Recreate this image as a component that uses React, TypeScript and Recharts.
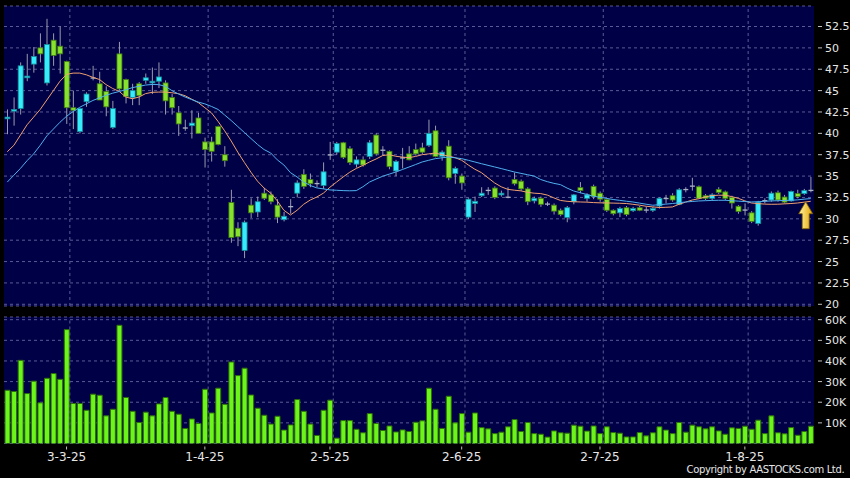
import React from "react";
import {
  Bar,
  BarChart,
  CartesianGrid,
  ComposedChart,
  Line,
  ReferenceDot,
  ReferenceLine,
  XAxis,
  YAxis,
} from "recharts";

// HK trading calendar, 18 Feb - 15 Aug 2025
const FIRST_DAY = "2025-02-18";
const LAST_DAY = "2025-08-15";
const HOLIDAYS = ["2025-04-04", "2025-04-18", "2025-04-21", "2025-05-01", "2025-05-05", "2025-07-01"];

const DATE_TICKS = ["3-3-25", "1-4-25", "2-5-25", "2-6-25", "2-7-25", "1-8-25"];
const PRICE_TICKS = [20, 22.5, 25, 27.5, 30, 32.5, 35, 37.5, 40, 42.5, 45, 47.5, 50, 52.5];
const VOLUME_TICKS = [10000, 20000, 30000, 40000, 50000, 60000];

const OPEN = [
  41.7, 42.6, 42.9, 46.5, 48.1, 50.0, 45.9, 50.9, 50.2, 48.4,
  43.0, 40.2, 43.7, 46.55, 45.8, 44.9, 40.7, 49.3, 46.3, 44.2,
  45.8, 46.2, 45.9, 46.1, 45.9, 44.2, 42.4, 40.7, 40.9, 41.8,
  39.0, 39.0, 40.8, 37.5, 31.9, 28.9, 26.3, 31.6, 30.8, 33.0,
  32.8, 31.6, 29.9, 31.4, 33.0, 35.2, 34.6, 34.1, 33.9, 37.5,
  37.8, 38.9, 38.2, 36.4, 36.9, 37.3, 39.8, 38.0, 37.9, 35.6,
  37.1, 37.6, 38.1, 38.3, 38.6, 40.3, 37.3, 38.5, 35.3, 35.0,
  30.2, 31.8, 32.7, 33.3, 33.6, 32.8, 32.55, 34.6, 34.4, 33.5,
  32.1, 32.4, 31.8, 31.6, 31.0, 30.15, 32.0, 33.65, 32.4, 33.8,
  33.0, 32.25, 31.0, 30.7, 31.3, 30.95, 31.3, 31.05, 31.0, 31.5,
  32.4, 32.7, 31.7, 33.4, 33.8, 33.75, 32.7, 32.4, 33.45, 33.15,
  32.5, 31.47, 31.1, 30.7, 29.45, 32.1, 32.2, 33.05, 32.55, 32.1,
  32.95, 32.95, 33.35,
];
const HIGH = [
  42.8, 44.2, 48.3, 49.3, 50.1, 51.7, 53.4, 51.7, 52.5, 48.5,
  45.0, 42.9, 44.8, 47.9, 47.2, 45.5, 43.8, 50.7, 46.4, 45.8,
  46.0, 47.0, 47.7, 48.3, 46.2, 44.6, 43.2, 41.6, 42.7, 42.4,
  39.5, 39.6, 40.9, 38.5, 33.4, 29.6, 29.8, 32.4, 32.6, 33.6,
  33.2, 32.3, 30.8, 32.3, 34.5, 35.8, 35.3, 34.5, 36.6, 39.0,
  39.0, 39.0, 38.5, 37.3, 37.3, 39.2, 40.0, 38.5, 38.0, 36.9,
  38.3, 38.5, 38.8, 38.9, 41.6, 40.9, 38.0, 39.2, 36.1, 35.3,
  32.4, 32.6, 33.7, 33.7, 33.8, 33.3, 33.7, 35.4, 34.6, 33.7,
  32.6, 32.6, 32.0, 31.8, 31.2, 31.5, 32.9, 34.3, 33.0, 34.0,
  33.2, 32.4, 31.1, 31.4, 31.5, 31.4, 31.5, 31.4, 31.4, 32.5,
  32.8, 33.0, 33.6, 33.7, 34.8, 33.9, 32.9, 33.0, 33.7, 33.3,
  32.7, 31.6, 31.8, 30.9, 32.1, 32.4, 33.2, 33.3, 32.8, 33.3,
  33.4, 33.5, 34.9,
];
const LOW = [
  39.9, 40.9, 42.2, 46.1, 47.1, 48.3, 45.6, 47.9, 47.0, 41.1,
  40.5, 40.0, 43.1, 46.2, 43.9, 42.0, 40.5, 45.0, 43.5, 43.3,
  43.3, 45.8, 44.6, 45.3, 42.2, 42.2, 39.7, 40.3, 39.4, 40.0,
  36.0, 36.7, 38.6, 36.1, 27.2, 26.8, 25.4, 30.1, 30.2, 32.2,
  31.7, 29.5, 29.7, 30.6, 32.5, 33.5, 33.7, 33.7, 33.5, 36.9,
  37.5, 37.0, 36.3, 36.0, 36.1, 37.0, 37.4, 37.4, 35.8, 35.0,
  35.9, 36.85, 37.4, 37.6, 38.4, 37.2, 36.8, 34.5, 34.1, 33.4,
  30.0, 30.8, 32.55, 32.8, 32.3, 32.6, 32.4, 33.9, 33.3, 31.6,
  31.8, 31.4, 31.5, 30.5, 30.3, 29.6, 31.7, 33.0, 32.0, 32.3,
  32.0, 30.8, 30.4, 30.2, 30.3, 30.8, 30.9, 30.7, 30.8, 31.2,
  31.8, 32.0, 31.6, 33.1, 33.3, 32.3, 32.2, 32.2, 32.9, 32.2,
  31.2, 30.6, 30.4, 29.5, 29.2, 31.8, 32.0, 32.0, 31.8, 32.0,
  32.4, 32.8, 33.1,
];
const CLOSE = [
  41.9, 42.8, 47.9, 46.7, 49.0, 49.3, 50.4, 49.1, 49.3, 43.0,
  42.7, 42.9, 44.6, 46.5, 43.9, 43.1, 42.9, 45.2, 44.3, 45.0,
  44.4, 46.5, 46.1, 46.6, 43.8, 43.0, 41.1, 40.6, 41.2, 40.0,
  38.1, 37.9, 38.7, 36.8, 27.8, 27.9, 29.6, 30.7, 32.0, 32.4,
  32.0, 30.2, 30.3, 31.5, 34.2, 33.8, 34.1, 34.2, 35.5, 37.55,
  38.8, 37.2, 36.6, 36.9, 36.3, 38.9, 37.6, 38.1, 36.1, 36.7,
  37.2, 36.9, 37.6, 37.8, 40.0, 37.3, 37.8, 34.8, 35.9, 34.2,
  32.3, 32.05, 33.0, 33.4, 32.5, 33.0, 32.6, 34.1, 33.5, 32.0,
  32.4, 31.7, 31.75, 30.9, 30.5, 31.3, 32.8, 33.3, 32.8, 32.6,
  32.3, 31.0, 30.6, 31.2, 30.5, 31.2, 31.0, 31.1, 31.2, 32.4,
  32.45, 32.2, 33.4, 33.5, 33.9, 32.4, 32.4, 32.8, 33.1, 32.4,
  31.85, 30.85, 31.05, 29.7, 31.95, 32.2, 33.0, 32.2, 31.95, 33.2,
  32.6, 33.3, 33.4,
];
// orange (short) and blue (long) moving averages as drawn
const MA_SHORT = [
  37.85, 38.6, 39.8, 41.0, 41.9, 42.8, 43.9, 45.0, 46.1, 46.9,
  47.05, 47.05, 46.85, 46.55, 46.3, 45.7, 45.25, 44.9, 44.25, 44.05,
  44.25, 44.65, 44.8, 44.83, 44.83, 44.75, 44.64, 44.4, 44.0, 43.6,
  43.0, 42.4, 41.4, 40.3, 39.1, 37.8, 36.6, 35.45, 34.4, 33.6,
  33.0, 32.1, 31.0, 30.45, 31.0, 31.7, 32.2, 32.55, 33.0, 33.7,
  34.3, 34.9, 35.45, 35.9, 36.25, 36.65, 37.0, 37.4, 37.5, 37.32,
  37.22, 37.16, 37.3, 37.5, 37.6, 37.7, 37.5, 37.35, 37.15, 36.85,
  36.3, 35.8, 35.4, 34.8, 34.2, 33.75, 33.45, 33.35, 33.27, 33.1,
  33.0, 32.95, 32.78, 32.45, 32.15, 32.05, 32.0, 31.97, 31.95, 31.9,
  31.87, 31.86, 31.84, 31.82, 31.79, 31.7, 31.6, 31.47, 31.4, 31.32,
  31.35, 31.39, 31.7, 31.95, 32.2, 32.35, 32.55, 32.72, 32.76, 32.76,
  32.6, 32.4, 32.1, 31.85, 31.78, 31.72, 31.7, 31.71, 31.75, 31.79,
  31.85, 31.95, 32.05,
];
const MA_LONG = [
  34.3, 35.1, 35.9, 36.8, 37.6, 38.6, 39.7, 40.5, 41.3, 42.0,
  42.55, 43.05, 43.45, 43.85, 44.15, 44.45, 44.7, 44.9, 45.1, 45.35,
  45.5, 45.65, 45.72, 45.7, 45.5, 45.0, 44.6, 44.25, 43.95, 43.66,
  43.45, 43.15, 42.8, 42.15, 41.5, 40.8, 40.1, 39.4, 38.7, 38.1,
  37.7, 36.9, 36.3, 35.4, 34.9, 34.3, 33.9, 33.62, 33.5, 33.38,
  33.34, 33.3, 33.28, 33.3, 33.75, 34.3, 34.65, 34.98, 35.23, 35.48,
  35.77, 36.06, 36.35, 36.65, 36.85, 37.04, 37.14, 37.23, 37.14, 37.04,
  36.85, 36.65, 36.45, 36.26, 36.07, 35.88, 35.68, 35.48, 35.32, 35.16,
  35.0, 34.6, 34.35, 34.15, 34.0, 33.6, 33.26, 33.05, 32.85, 32.64,
  32.52, 32.39, 32.26, 32.16, 32.06, 31.97, 31.84, 31.71, 31.59, 31.65,
  31.72, 31.79, 31.88, 31.97, 32.03, 32.09, 32.12, 32.15, 32.17, 32.17,
  32.12, 32.07, 32.02, 31.97, 32.0, 32.05, 32.09, 32.12, 32.15, 32.17,
  32.22, 32.3, 32.37,
];
// volume, thousands of shares
const VOLUME_K = [
  25.8, 25.2, 40.3, 24.2, 30.2, 19.7, 31.6, 33.9, 31.1, 55.2,
  19.4, 19.4, 16.1, 23.9, 23.4, 13.4, 16.6, 57.3, 22.3, 15.6,
  10.2, 15.2, 13.4, 19.2, 22.3, 15.6, 14.2, 7.3, 11.9, 9.7,
  26.3, 14.8, 26.8, 19.0, 39.5, 32.9, 36.5, 23.5, 17.1, 13.7,
  9.4, 13.2, 6.5, 9.0, 21.3, 15.6, 9.4, 3.9, 16.1, 21.0,
  2.6, 11.1, 11.1, 6.9, 5.2, 14.5, 9.7, 6.3, 8.5, 5.6,
  6.6, 5.8, 10.3, 11.0, 26.8, 16.6, 7.3, 22.9, 10.0, 14.5,
  5.5, 14.8, 7.7, 7.1, 4.8, 5.5, 8.1, 11.6, 5.8, 10.2,
  4.8, 4.5, 3.1, 6.1, 5.2, 5.0, 8.9, 8.4, 6.0, 8.5,
  4.8, 8.1, 5.3, 5.0, 3.2, 3.2, 5.3, 3.7, 5.2, 8.1,
  6.5, 4.8, 10.2, 5.5, 8.9, 8.1, 7.1, 8.1, 6.1, 4.5,
  7.6, 7.3, 8.4, 6.9, 11.3, 4.8, 13.4, 5.2, 4.7, 7.7,
  4.0, 5.8, 8.4,
];

const FONT = "'DejaVu Sans', sans-serif";
const PANEL = "#000046";
const GRID = "#5a5a96";
const TEXT = "#e6e6e6";
const TICK = "#c0c0c0";
const UP = "#36ecfa";
const UP_EDGE = "#14899a";
const DOWN = "#86e22c";
const DOWN_EDGE = "#3e7812";
const DOJI = "#aab2c4";
const WICK = "#9a9aae";

function tradingDays(): string[] {
  const out: string[] = [];
  const d = new Date(FIRST_DAY + "T00:00:00Z");
  const end = new Date(LAST_DAY + "T00:00:00Z").getTime();
  while (d.getTime() <= end) {
    const iso = d.toISOString().slice(0, 10);
    const wd = d.getUTCDay();
    if (wd !== 0 && wd !== 6 && !HOLIDAYS.includes(iso)) {
      out.push(`${d.getUTCDate()}-${d.getUTCMonth() + 1}-${String(d.getUTCFullYear()).slice(2)}`);
    }
    d.setUTCDate(d.getUTCDate() + 1);
  }
  return out;
}

const DATES = tradingDays();
const rows = DATES.map((date, i) => ({
  date,
  o: OPEN[i],
  h: HIGH[i],
  l: LOW[i],
  c: CLOSE[i],
  maShort: MA_SHORT[i],
  maLong: MA_LONG[i],
  vol: VOLUME_K[i] * 1000,
}));

function Candle(props: any) {
  const { x, y, width, height, payload } = props;
  if (!payload) return null;
  const { o, h, l, c } = payload;
  const top = Math.min(y, y + height);
  const bottom = Math.max(y, y + height);
  const k = (bottom - top) / (h - l || 1);
  const py = (v: number) => top + (h - v) * k;
  const cx = x + width / 2;
  const doji = Math.abs(c - o) < 0.11;
  const up = c > o;
  const bTop = py(Math.max(o, c));
  const bH = Math.max(py(Math.min(o, c)) - bTop, 1.3);
  return (
    <g>
      <line x1={cx} x2={cx} y1={top} y2={bottom} stroke={WICK} strokeWidth={1} />
      <rect
        x={cx - 2.5}
        y={bTop}
        width={5}
        height={bH}
        fill={doji ? DOJI : up ? UP : DOWN}
        stroke={doji ? "none" : up ? UP_EDGE : DOWN_EDGE}
        strokeWidth={0.8}
      />
    </g>
  );
}

function RightTick({ x, y, payload, fmt }: any) {
  return (
    <g>
      <line x1={x + 4} x2={x + 8} y1={y} y2={y} stroke={TICK} />
      <text x={x + 11} y={y} dy="0.36em" fill={TEXT} fontSize={11} fontFamily={FONT}>
        {fmt(payload.value)}
      </text>
    </g>
  );
}

function DateTick({ x, y, payload }: any) {
  return (
    <g>
      <line x1={x} x2={x} y1={y + 3} y2={y + 6} stroke={TICK} />
      <text x={x} y={y + 17.5} textAnchor="middle" fill={TEXT} fontSize={12} fontFamily={FONT}>
        {payload.value}
      </text>
    </g>
  );
}

function Arrow({ cx, cy }: any) {
  const x = cx - 5;
  const d = `M${x},${cy} L${x + 7},${cy + 12} L${x + 3.5},${cy + 12} L${x + 3.5},${cy + 27} L${x - 3.5},${cy + 27} L${x - 3.5},${cy + 12} L${x - 7},${cy + 12} Z`;
  return (
    <g>
      <defs>
        <linearGradient id="arrowFill" x1="0" y1="0" x2="1" y2="0">
          <stop offset="0" stopColor="#fff4a8" />
          <stop offset="1" stopColor="#e4a400" />
        </linearGradient>
      </defs>
      <path d={d} fill="url(#arrowFill)" stroke="#806000" strokeWidth={0.8} />
    </g>
  );
}

const dateLines = DATE_TICKS.map((t) => (
  <ReferenceLine key={t} x={t} position="end" stroke={GRID} strokeDasharray="3 3" />
));

export default function App() {
  return (
    <div style={{ position: "absolute", left: 0, top: 0, width: 850, height: 478, background: "#000", overflow: "hidden" }}>
      <div style={{ position: "absolute", left: 0, top: 0 }}>
        <ComposedChart width={850} height={310} data={rows} margin={{ top: 6, right: 0, bottom: 4, left: 4 }} barCategoryGap={0}>
          <CartesianGrid vertical={false} stroke={GRID} strokeDasharray="3 3" fill={PANEL} />
          <XAxis dataKey="date" hide />
          <YAxis
            orientation="right"
            domain={[19.8, 54.9]}
            ticks={PRICE_TICKS}
            interval={0}
            allowDataOverflow
            width={36}
            axisLine={false}
            tickLine={false}
            tickSize={0}
            tickMargin={0}
            tick={<RightTick fmt={(v: number) => String(v)} />}
          />
          {dateLines}
          <Bar dataKey={(d: any) => [d.l, d.h]} shape={<Candle />} isAnimationActive={false} />
          <Line dataKey="maShort" stroke="#f0a070" strokeWidth={1} dot={false} activeDot={false} isAnimationActive={false} />
          <Line dataKey="maLong" stroke="#4fb0ee" strokeWidth={1} dot={false} activeDot={false} isAnimationActive={false} />
          <ReferenceDot x={DATES[DATES.length - 1]} y={32.0} shape={<Arrow />} />
        </ComposedChart>
      </div>
      <div style={{ position: "absolute", left: 0, top: 310 }}>
        <BarChart width={850} height={168} data={rows} margin={{ top: 7, right: 0, bottom: 0, left: 4 }} barCategoryGap={1}>
          <CartesianGrid vertical={false} stroke={GRID} strokeDasharray="3 3" fill={PANEL} />
          <XAxis
            dataKey="date"
            ticks={DATE_TICKS}
            interval={0}
            height={34.5}
            axisLine={false}
            tickLine={false}
            tickSize={0}
            tickMargin={0}
            tick={<DateTick />}
          />
          <YAxis
            orientation="right"
            domain={[0, 61300]}
            ticks={VOLUME_TICKS}
            interval={0}
            allowDataOverflow
            width={36}
            axisLine={false}
            tickLine={false}
            tickSize={0}
            tickMargin={0}
            tick={<RightTick fmt={(v: number) => `${v / 1000}K`} />}
          />
          {dateLines}
          <Bar dataKey="vol" fill="#6cf51a" stroke="#2c6e08" strokeWidth={1} isAnimationActive={false} />
        </BarChart>
      </div>
      <div
        style={{
          position: "absolute",
          right: 6,
          top: 463,
          color: TEXT,
          fontFamily: FONT,
          fontSize: 11,
          lineHeight: "13px",
          whiteSpace: "nowrap",
          letterSpacing: -0.4,
          transform: "scaleX(0.91)",
          transformOrigin: "right center",
        }}
      >
        Copyright by AASTOCKS.com Ltd.
      </div>
    </div>
  );
}
